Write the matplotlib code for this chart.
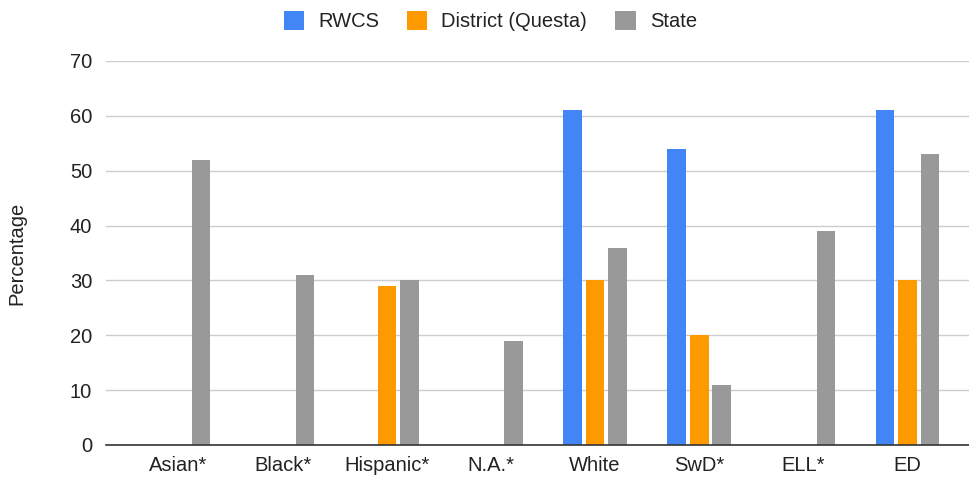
import matplotlib.pyplot as plt
from matplotlib.patches import Patch
import numpy as np

plt.rcParams['font.family'] = ['Liberation Sans', 'DejaVu Sans']

categories = ['Asian*', 'Black*', 'Hispanic*', 'N.A.*', 'White', 'SwD*', 'ELL*', 'ED']
rwcs = [np.nan, np.nan, np.nan, np.nan, 61, 54, np.nan, 61]
district = [np.nan, np.nan, 29, np.nan, 30, 20, np.nan, 30]
state = [52, 31, 30, 19, 36, 11, 39, 53]
series_names = ['RWCS', 'District (Questa)', 'State']
colors = ['#4285F4', '#FF9900', '#999999']

fig = plt.figure(figsize=(9.69, 4.8), dpi=100)
ax = fig.add_axes([106/969, 35/480, 863/969, 384/480])

x = np.arange(len(categories))
step = 0.216
width = 0.178
for i, (vals, c) in enumerate(zip([rwcs, district, state], colors)):
    ax.bar(x + (i - 1) * step, vals, width=width, color=c, zorder=3)

ax.set_xlim(-0.696, 7.59)
ax.set_ylim(0, 70)
ax.set_yticks(range(0, 71, 10))
ax.set_xticks(x)
ax.set_xticklabels(categories)
ax.grid(axis='y', color='#cccccc', linewidth=1.0, zorder=0)
for s in ['top', 'right', 'left']:
    ax.spines[s].set_visible(False)
ax.spines['bottom'].set_color('#333333')
ax.spines['bottom'].set_linewidth(1.2)
ax.spines['bottom'].set_zorder(4)
ax.tick_params(axis='both', length=0, labelsize=14.5, colors='#222222', pad=8)
ax.tick_params(axis='y', pad=10)
ax.set_ylabel('Percentage', fontsize=14.5, color='#222222', labelpad=31)

handles = [Patch(facecolor=c, edgecolor='none') for c in colors]
fig.legend(handles, series_names, loc='upper center', bbox_to_anchor=(0.506, 1.015),
           ncol=3, frameon=False, fontsize=14.5, handlelength=1.0, handleheight=1.1,
           columnspacing=1.4, handletextpad=0.7, labelcolor='#222222')

plt.savefig('out.png', dpi=100)
